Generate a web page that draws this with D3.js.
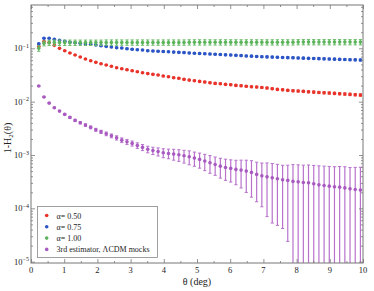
<!DOCTYPE html>
<html>
<head>
<meta charset="utf-8">
<script src="https://cdn.jsdelivr.net/npm/d3@7"></script>
<style>
  body { margin: 0; background: #fff; }
  text { font-family: "Liberation Serif", "DejaVu Serif", serif; fill: #222; }
</style>
</head>
<body>
<svg id="chart" width="374" height="291"></svg>
<script>
// bin centres in degrees
const theta = [0.234, 0.391, 0.547, 0.703, 0.859, 1.016, 1.172, 1.328, 1.484, 1.641,
  1.797, 1.953, 2.109, 2.266, 2.422, 2.578, 2.734, 2.891, 3.047, 3.203,
  3.359, 3.516, 3.672, 3.828, 3.984, 4.141, 4.297, 4.453, 4.609, 4.766,
  4.922, 5.078, 5.234, 5.391, 5.547, 5.703, 5.859, 6.016, 6.172, 6.328,
  6.484, 6.641, 6.797, 6.953, 7.109, 7.266, 7.422, 7.578, 7.734, 7.891,
  8.047, 8.203, 8.359, 8.516, 8.672, 8.828, 8.984, 9.141, 9.297, 9.453,
  9.609, 9.766, 9.922]

const alpha050 = [0.1081, 0.1341, 0.1285, 0.1138, 0.1000, 0.0902, 0.0816, 0.0749, 0.0687, 0.0630,
  0.0585, 0.0546, 0.0514, 0.0486, 0.0460, 0.0433, 0.0414, 0.0397, 0.0380, 0.0364,
  0.0348, 0.0336, 0.0325, 0.0316, 0.0302, 0.0293, 0.0281, 0.0274, 0.0262, 0.0254,
  0.0247, 0.0240, 0.0233, 0.0226, 0.0220, 0.0217, 0.0211, 0.0208, 0.0202, 0.0199,
  0.0194, 0.0190, 0.0188, 0.0184, 0.0180, 0.0175, 0.0170, 0.0167, 0.0163, 0.0160,
  0.0158, 0.0156, 0.0153, 0.0151, 0.0149, 0.0147, 0.0145, 0.0143, 0.0141, 0.0139,
  0.0137, 0.0135, 0.0133]
const alpha050_err = [0.0010, 0.0010, 0.0010, 0.0010, 0.0010, 0.0010, 0.0010, 0.0010, 0.0010, 0.0010,
  0.0010, 0.0009, 0.0009, 0.0009, 0.0009, 0.0009, 0.0009, 0.0009, 0.0009, 0.0009,
  0.0008, 0.0008, 0.0008, 0.0008, 0.0008, 0.0008, 0.0008, 0.0008, 0.0008, 0.0008,
  0.0008, 0.0008, 0.0008, 0.0008, 0.0008, 0.0008, 0.0008, 0.0008, 0.0008, 0.0008,
  0.0007, 0.0007, 0.0007, 0.0007, 0.0007, 0.0007, 0.0007, 0.0007, 0.0007, 0.0007,
  0.0007, 0.0007, 0.0007, 0.0007, 0.0007, 0.0007, 0.0007, 0.0007, 0.0007, 0.0007,
  0.0007, 0.0007, 0.0007]

const alpha075 = [0.1220, 0.1540, 0.1540, 0.1475, 0.1413, 0.1353, 0.1296, 0.1274, 0.1242, 0.1204,
  0.1189, 0.1153, 0.1119, 0.1090, 0.1058, 0.1026, 0.1013, 0.0983, 0.0958, 0.0940,
  0.0929, 0.0902, 0.0891, 0.0881, 0.0870, 0.0860, 0.0850, 0.0840, 0.0831, 0.0820,
  0.0809, 0.0802, 0.0792, 0.0782, 0.0775, 0.0765, 0.0755, 0.0749, 0.0739, 0.0730,
  0.0720, 0.0714, 0.0705, 0.0696, 0.0691, 0.0685, 0.0681, 0.0675, 0.0669, 0.0665,
  0.0660, 0.0655, 0.0649, 0.0646, 0.0641, 0.0635, 0.0631, 0.0627, 0.0621, 0.0616,
  0.0612, 0.0608, 0.0603]
const alpha075_err = [0.0030, 0.0030, 0.0030, 0.0030, 0.0030, 0.0030, 0.0030, 0.0030, 0.0030, 0.0030,
  0.0028, 0.0028, 0.0028, 0.0028, 0.0028, 0.0028, 0.0028, 0.0028, 0.0028, 0.0028,
  0.0026, 0.0026, 0.0026, 0.0026, 0.0026, 0.0026, 0.0026, 0.0026, 0.0026, 0.0026,
  0.0025, 0.0025, 0.0025, 0.0025, 0.0025, 0.0025, 0.0025, 0.0025, 0.0025, 0.0025,
  0.0025, 0.0025, 0.0025, 0.0025, 0.0025, 0.0025, 0.0025, 0.0025, 0.0025, 0.0025,
  0.0025, 0.0025, 0.0025, 0.0025, 0.0025, 0.0025, 0.0025, 0.0025, 0.0025, 0.0025,
  0.0025, 0.0025, 0.0025]

const alpha100 = [0.100, 0.124, 0.127, 0.128, 0.128, 0.128, 0.128, 0.128, 0.128, 0.128,
  0.128, 0.128, 0.128, 0.129, 0.129, 0.129, 0.129, 0.129, 0.129, 0.129,
  0.129, 0.129, 0.129, 0.129, 0.129, 0.129, 0.129, 0.129, 0.129, 0.130,
  0.130, 0.130, 0.130, 0.130, 0.130, 0.130, 0.130, 0.130, 0.130, 0.130,
  0.130, 0.130, 0.130, 0.130, 0.130, 0.130, 0.130, 0.130, 0.130, 0.130,
  0.131, 0.131, 0.131, 0.131, 0.131, 0.131, 0.131, 0.131, 0.131, 0.131,
  0.131, 0.131, 0.131]
const alpha100_err = [0.012, 0.013, 0.014, 0.015, 0.015, 0.015, 0.015, 0.015, 0.015, 0.015,
  0.015, 0.015, 0.015, 0.015, 0.015, 0.015, 0.015, 0.015, 0.015, 0.015,
  0.015, 0.015, 0.015, 0.015, 0.015, 0.015, 0.015, 0.015, 0.015, 0.015,
  0.015, 0.015, 0.015, 0.015, 0.015, 0.015, 0.015, 0.015, 0.015, 0.015,
  0.015, 0.015, 0.015, 0.015, 0.015, 0.015, 0.015, 0.015, 0.015, 0.015,
  0.015, 0.015, 0.015, 0.015, 0.015, 0.015, 0.015, 0.015, 0.015, 0.015,
  0.015, 0.015, 0.015]

const mocks = [0.01963, 0.01220, 0.00941, 0.00769, 0.00666, 0.00578, 0.00507, 0.00446, 0.00402, 0.00364,
  0.00330, 0.00297, 0.00272, 0.00250, 0.00229, 0.00210, 0.00190, 0.00177, 0.00165, 0.00151,
  0.00139, 0.00128, 0.00121, 0.00116, 0.00110, 0.00107, 0.00104, 0.00101, 0.000966, 0.000925,
  0.000875, 0.000827, 0.000769, 0.000714, 0.000666, 0.000619, 0.000585, 0.000561, 0.000537, 0.000521,
  0.000499, 0.000472, 0.000433, 0.000407, 0.000390, 0.000373, 0.000358, 0.000342, 0.000334, 0.000320,
  0.000314, 0.000306, 0.000301, 0.000288, 0.000276, 0.000269, 0.000261, 0.000253, 0.000250, 0.000242,
  0.000232, 0.000226, 0.000220]
const mocks_err = [0.00039, 0.00024, 0.00024, 0.00023, 0.00020, 0.00020, 0.00020, 0.00020, 0.00020, 0.00020,
  0.00020, 0.00019, 0.00019, 0.00020, 0.00019, 0.00019, 0.00019, 0.00019, 0.00018, 0.00018,
  0.00018, 0.00018, 0.00019, 0.00020, 0.00021, 0.00022, 0.00024, 0.00025, 0.00026, 0.00027,
  0.00026, 0.00026, 0.00026, 0.00026, 0.00025, 0.00025, 0.00025, 0.00025, 0.00026, 0.00028,
  0.00030, 0.00031, 0.00030, 0.00030, 0.00032, 0.00032, 0.00031, 0.00030, 0.00031, 0.00034,
  0.00034, 0.00034, 0.00035, 0.00035, 0.00035, 0.00035, 0.00035, 0.00035, 0.00036, 0.00036,
  0.00035, 0.00036, 0.00037]

const labels = ["\u03b1= 0.50", "\u03b1= 0.75", "\u03b1= 1.00", "3rd estimator, \u039bCDM mocks"]
const x_ticks = [0, 1, 2, 3, 4, 5, 6, 7, 8, 9, 10]
const y_ticks = [1e-5, 1e-4, 1e-3, 1e-2, 1e-1]
const y_exps = ["\u22125", "\u22124", "\u22123", "\u22122", "\u22121"]

let series = [
  {name: labels[0], y: alpha050, err: alpha050_err, fill: "#e8332b", bar: "#ec5a52"},
  {name: labels[1], y: alpha075, err: alpha075_err, fill: "#2b54c4", bar: "#5274d2"},
  {name: labels[2], y: alpha100, err: alpha100_err, fill: "#5cb35c", bar: "#6dbd6b"},
  {name: labels[3], y: mocks, err: mocks_err, fill: "#a95ac0", bar: "#b872cc"}
]

let pLeft = 31, pRight = 363, pTop = 5, pBottom = 263

let x = d3.scaleLinear().domain([0, 10]).range([pLeft, pRight])
let y = d3.scaleLog().domain([1e-5, 0.649]).range([261.7, pTop])

let svg = d3.select("#chart")

// error bars + points
let plot = svg.append("g")
series.forEach(s => {
  let g = plot.append("g")
  theta.forEach((t, i) => {
    let v = s.y[i], e = s.err[i]
    let y0 = v - e > 0 ? Math.min(y(v - e), pBottom) : pBottom
    let y1 = y(v + e)
    let cx = x(t)
    g.append("line")
      .attr("x1", cx).attr("x2", cx)
      .attr("y1", y0).attr("y2", y1)
      .attr("stroke", s.bar).attr("stroke-width", 1.2)
    g.append("line")
      .attr("x1", cx - 1.6).attr("x2", cx + 1.6)
      .attr("y1", y1).attr("y2", y1)
      .attr("stroke", s.bar).attr("stroke-width", 1)
    if (y0 < pBottom) {
      g.append("line")
        .attr("x1", cx - 1.6).attr("x2", cx + 1.6)
        .attr("y1", y0).attr("y2", y0)
        .attr("stroke", s.bar).attr("stroke-width", 1)
    }
  })
  g.selectAll("circle")
    .data(theta).enter()
    .append("circle")
    .attr("cx", d => x(d))
    .attr("cy", (d, i) => y(s.y[i]))
    .attr("r", 1.8)
    .attr("fill", s.fill)
})

// frame and ticks
let axisColor = "#777"
let x_minor = d3.range(0.5, 10, 1)
let y_minor = []
y_ticks.forEach(p => { for (let k = 2; k <= 9; k++) if (p * k < 0.649) y_minor.push(p * k) })

function tickAxis(axis, major, minor, transform) {
  let g = svg.append("g").attr("transform", transform)
  g.call(axis.tickValues(major).tickSize(-4).tickFormat(""))
  let g2 = svg.append("g").attr("transform", transform)
  g2.call(axis.tickValues(minor).tickSize(-2).tickFormat(""))
  ;[g, g2].forEach(a => {
    a.select(".domain").remove()
    a.selectAll("line").attr("stroke", axisColor).attr("stroke-width", 0.8)
  })
}
tickAxis(d3.axisBottom(x), x_ticks, x_minor, `translate(0,${pBottom})`)
tickAxis(d3.axisTop(x), x_ticks, x_minor, `translate(0,${pTop})`)
tickAxis(d3.axisLeft(y), y_ticks, y_minor, `translate(${pLeft},0)`)
tickAxis(d3.axisRight(y), y_ticks, y_minor, `translate(${pRight},0)`)

svg.append("rect")
  .attr("x", pLeft).attr("y", pTop)
  .attr("width", pRight - pLeft).attr("height", pBottom - pTop)
  .attr("fill", "none").attr("stroke", axisColor).attr("stroke-width", 1)

// tick labels
svg.append("g").selectAll("text")
  .data(x_ticks).enter()
  .append("text")
  .attr("x", d => x(d)).attr("y", 272.5)
  .attr("text-anchor", "middle")
  .attr("font-size", 8.5)
  .text(d => d)

let ylab = svg.append("g").selectAll("text")
  .data(y_ticks).enter()
  .append("text")
  .attr("x", 14).attr("y", d => y(d) + 3)
  .attr("font-size", 8.5)
ylab.append("tspan").text("10")
ylab.append("tspan")
  .attr("dy", -3.5).attr("font-size", 6)
  .text((d, i) => y_exps[i])

// axis titles
svg.append("text")
  .attr("x", (pLeft + pRight) / 2).attr("y", 285)
  .attr("text-anchor", "middle").attr("font-size", 10)
  .text("\u03b8 (deg)")

let yt = svg.append("text")
  .attr("transform", "translate(10.5,138) rotate(-90)")
  .attr("text-anchor", "middle").attr("font-size", 10)
yt.append("tspan").text("1-H")
yt.append("tspan").attr("font-size", 7).attr("dy", 2).text("2")
yt.append("tspan").attr("dy", -2).text("(\u03b8)")

// legend
let legend = svg.append("g")
legend.append("rect")
  .attr("x", 37.5).attr("y", 206.5).attr("width", 120).attr("height", 51)
  .attr("fill", "#fff").attr("stroke", "#888").attr("stroke-width", 0.8)
series.forEach((s, i) => {
  let ly = 215.5 + i * 11.3
  legend.append("circle").attr("cx", 46.7).attr("cy", ly).attr("r", 1.8).attr("fill", s.fill)
  legend.append("text").attr("x", 56.5).attr("y", ly + 3)
    .attr("font-size", 8).text(s.name)
})
</script>
</body>
</html>
